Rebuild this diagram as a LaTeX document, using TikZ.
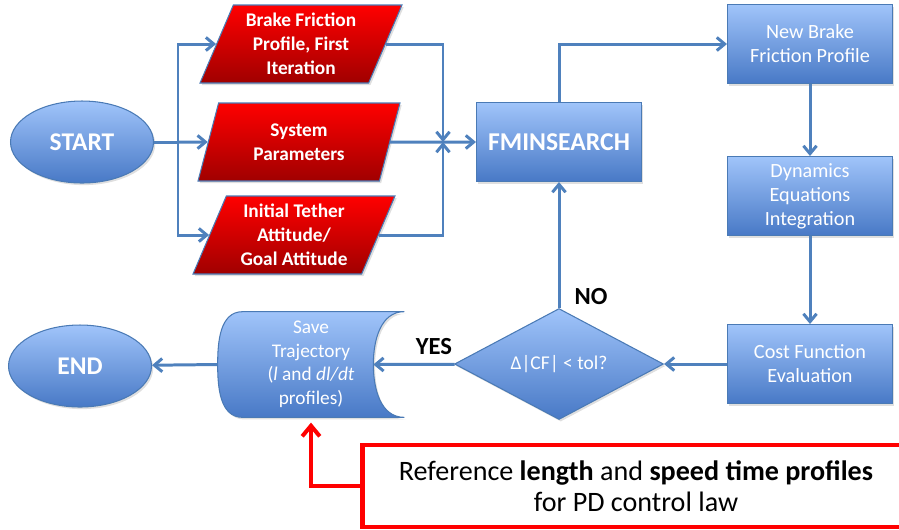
\documentclass[tikz,border=0pt]{standalone}
\usepackage{fontspec}
\setmainfont{Carlito}
\usepackage{tikz}
\usetikzlibrary{shapes.geometric}
\usetikzlibrary{arrows.meta}
\usetikzlibrary{calc}
\usetikzlibrary{shadows}
\usetikzlibrary{backgrounds}
\definecolor{lineblue}{HTML}{4F81BD}
\definecolor{edgeblue}{HTML}{4A7AB5}
\definecolor{lightblue}{HTML}{A0C4FA}
\definecolor{deepblue}{HTML}{4879C6}
\definecolor{deepred}{HTML}{A00000}
\tikzstyle{bluefill}=[top color=lightblue, bottom color=deepblue, draw=edgeblue, line width=0.6pt,
  drop shadow={opacity=0.25, shadow xshift=1pt, shadow yshift=-1.2pt}]
\tikzstyle{terminal}=[ellipse, bluefill, minimum width=2.86cm, minimum height=1.64cm, text=white,
  font=\fontsize{14.5}{17}\selectfont\bfseries]
\tikzstyle{process}=[rectangle, bluefill, minimum width=3.3cm, minimum height=1.58cm, text=white,
  align=center, font=\fontsize{11.5}{13.7}\selectfont]
\tikzstyle{inputdata}=[trapezium, trapezium left angle=63, trapezium right angle=117,
  trapezium stretches body, minimum width=4.04cm, minimum height=1.56cm, inner sep=1pt,
  top color=red, bottom color=deepred, draw=edgeblue, line width=0.6pt,
  drop shadow={opacity=0.25, shadow xshift=1pt, shadow yshift=-1.2pt},
  text=white, align=center, font=\fontsize{11}{13.7}\selectfont\bfseries]
\tikzstyle{decision}=[diamond, bluefill, aspect=1.9, minimum width=4.18cm, minimum height=2.22cm,
  inner sep=1pt, text=white, font=\fontsize{11.1}{13}\selectfont]
\tikzstyle{stored}=[rectangle, minimum width=3.72cm, minimum height=2.1cm, inner sep=0pt,
  text=white, align=center, font=\fontsize{11}{13.4}\selectfont]
\tikzstyle{answer}=[font=\fontsize{14}{16}\selectfont\bfseries]
\tikzstyle{refbox}=[rectangle, draw=red, line width=2.8pt, fill=white, minimum width=10.96cm,
  minimum height=1.64cm, align=center, font=\fontsize{16}{17.8}\selectfont]
\tikzstyle{flow}=[draw=lineblue, line width=1.7pt, -{Straight Barb[length=4.5pt,width=7.5pt]}]
\tikzstyle{plain}=[draw=lineblue, line width=1.7pt]
\tikzstyle{refarrow}=[draw=red, line width=2.3pt, -{Straight Barb[length=6pt,width=10pt]}]

\begin{document}
\begin{tikzpicture}[x=0.02cm, y=-0.02cm]
    \useasboundingbox (0,0) rectangle (899,529);
    % inputs
    \node[terminal] (start) at (82,142) {START};
    \node[inputdata] (brake) at (301,44) {Brake Friction\\Profile, First\\Iteration};
    \node[inputdata] (sysparam) at (299,142) {System\\Parameters};
    \node[inputdata] (tether) at (294,235) {Initial Tether\\Attitude/\\Goal Attitude};
    \coordinate (split) at (178,142);
    \coordinate (merge) at (443,142);
    % optimisation loop
    \node[process, font=\fontsize{14.6}{18}\selectfont\bfseries] (fmin) at (559,142) {FMINSEARCH};
    \node[process] (newbrake) at (810,44) {New Brake\\Friction Profile};
    \node[process] (dynamics) at (810,196) {Dynamics\\Equations\\Integration};
    \node[process] (cost) at (810,364) {Cost Function\\Evaluation};
    \node[decision] (check) at (559,364) {Δ|CF| < tol?};
    \node[stored] (save) at (311,364.5) {Save\\Trajectory\\(\textit{l} and \textit{dl/dt}\\profiles)};
    \coordinate (savein) at ($(save.east)+(-31,0)$);
    \begin{scope}[on background layer]
        \path[bluefill] ($(save.north west)+(25,0)$) -- (save.north east)
            to[out=180, in=90] (savein) to[out=-90, in=180] (save.south east)
            -- ($(save.south west)+(25,0)$) to[out=180, in=-90] (save.west)
            to[out=90, in=180] cycle;
    \end{scope}
    \node[terminal] (finish) at (80,366) {END};
    \node[refbox] (ref) at (636,486) {Reference \textbf{length} and \textbf{speed time profiles}\\for PD control law};

    % connectors
    \draw[plain] (start.east) -- (split);
    \draw[flow] (split) |- (brake.west);
    \draw[flow] (split) -- (sysparam.west);
    \draw[flow] (split) |- (tether.west);
    \draw[flow] (brake.east) -| (merge);
    \draw[flow] (tether.east) -| (merge);
    \draw[flow] (sysparam.east) -- (fmin.west);
    \draw[flow] (fmin.north) |- (newbrake.west);
    \draw[flow] (newbrake) -- (dynamics);
    \draw[flow] (dynamics) -- (cost);
    \draw[flow] (cost) -- (check);
    \draw[flow] (check) -- (fmin);
    \draw[flow] (check) -- (savein);
    \draw[flow] (save.west) -- (finish);
    \node[answer] (no) at (591,297) {NO};
    \node[answer] (yes) at (434,347) {YES};
    \draw[refarrow] (ref.west) -| ([yshift=-3pt]save.south);
\end{tikzpicture}
\end{document}
